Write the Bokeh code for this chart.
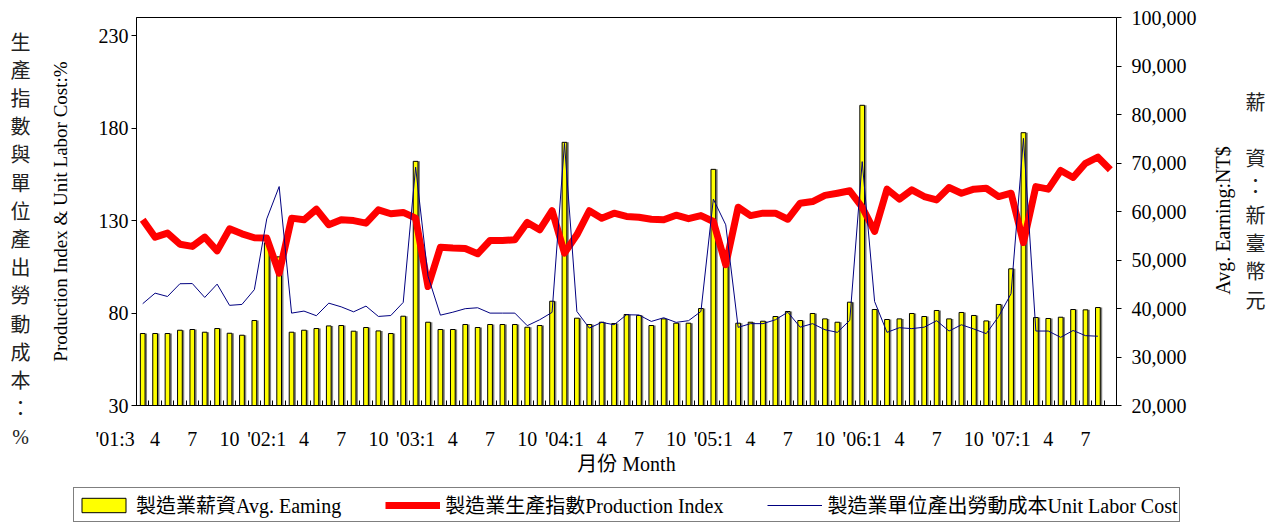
import math
from bokeh.plotting import figure
from bokeh.layouts import row, column
from bokeh.models import (ColumnDataSource, Range1d, LinearAxis, FixedTicker,
                          NumeralTickFormatter, Legend, LegendItem)
from bokeh.core.properties import value
from bokeh.transform import dodge
from bokeh.embed import file_html
from bokeh.resources import INLINE

FONT = "'Liberation Serif', 'Times New Roman', 'Noto Sans CJK TC', serif"

# ---- data (Mar 2001 .. Sep 2007) ----
earning = [34840, 34840, 34840, 35520, 35670, 35110, 35870, 34900, 34490, 37520,
           53540, 50650, 35110, 35520, 35870, 36410, 36490, 35320, 36080, 35380,
           34840, 38410, 70340, 37170, 35670, 35670, 36700, 36080, 36700, 36700,
           36700, 36140, 36490, 41500, 74260, 38000, 36700, 37170, 36900, 38760,
           38560, 36490, 37860, 36970, 36970, 40000, 68690, 49560, 36970, 37170,
           37380, 38350, 39380, 37520, 38970, 37860, 37170, 41300, 81900, 39790,
           37730, 37860, 38970, 38350, 39590, 37860, 39180, 38560, 37440, 40830,
           48180, 76250, 38140, 37940, 38200, 39790, 39720, 40200]

production = [130.5, 121.1, 123.3, 117.3, 116.1, 121.1, 113.7, 125.6, 122.9, 120.8,
              120.6, 101.6, 131.4, 130.5, 136.2, 127.8, 130.5, 130.1, 128.7, 135.9,
              133.8, 134.5, 131.4, 94.4, 115.7, 115.2, 115.0, 112.1, 119.3, 119.3,
              119.7, 129.1, 125.1, 135.5, 112.5, 122.4, 135.4, 131.4, 134.1, 132.3,
              131.9, 130.8, 130.5, 133.0, 131.1, 132.8, 129.6, 106.2, 137.3, 132.8,
              134.1, 134.1, 130.8, 139.5, 140.4, 143.7, 144.9, 146.2, 137.3, 124.2,
              147.1, 141.7, 146.7, 143.1, 141.3, 148.0, 144.9, 147.1, 147.6, 143.1,
              144.9, 118.2, 148.5, 147.1, 157.2, 153.4, 161.1, 164.4, 157.6]

unit_labor_cost = [85.1, 90.8, 89.0, 95.9, 96.0, 88.5, 95.7, 84.2, 84.7, 92.7,
                   131.0, 148.5, 80.0, 81.1, 78.6, 85.4, 83.4, 80.7, 83.8, 78.2,
                   78.7, 85.8, 159.0, 100.0, 78.9, 80.5, 82.4, 82.9, 80.0, 80.0,
                   80.0, 73.2, 76.4, 80.4, 171.9, 80.9, 71.9, 75.0, 73.7, 79.1,
                   79.0, 75.5, 77.5, 75.0, 75.9, 80.9, 141.7, 127.8, 72.3, 74.3,
                   74.3, 76.4, 80.5, 72.4, 74.3, 71.0, 69.6, 76.1, 162.0, 86.3,
                   69.6, 72.1, 71.6, 72.4, 75.9, 70.3, 73.7, 71.4, 68.9, 78.2,
                   90.5, 174.6, 70.3, 70.3, 66.9, 70.6, 67.8, 67.5]

x_tick_labels = ["'01:3", "4", "7", "10", "'02:1", "4", "7", "10", "'03:1", "4", "7", "10",
                 "'04:1", "4", "7", "10", "'05:1", "4", "7", "10", "'06:1", "4", "7", "10",
                 "'07:1", "4", "7"]
left_ticks = [30, 80, 130, 180, 230]
right_ticks = [20000, 30000, 40000, 50000, 60000, 70000, 80000, 90000, 100000]
left_title_cn = list("生產指數與單位產出勞動成本：%")
right_title_cn = ["薪", "", "資", "：", "新", "臺", "幣", "元"]
right_title_en = "Avg. Earning:NT$"
legend_labels = ["製造業薪資Avg. Eaming", "製造業生產指數Production Index",
                 "製造業單位產出勞動成本Unit Labor Cost"]

BAR_STYLE = dict(fill_color="#FFFF00", line_color="black", line_width=1)
RED_STYLE = dict(line_color="#FF0000", line_width=7, line_join="round")
BLUE_STYLE = dict(line_color="#000080", line_width=1)

n_months = len(production)
src_bar = ColumnDataSource(dict(x=list(range(len(earning))), earning=earning,
                                ulc=unit_labor_cost))
src_prod = ColumnDataSource(dict(x=list(range(n_months)), prod=production))

LEFT_W = 40          # page x 0..40  : stacked Chinese title
MAIN_W = 1165        # page x 40..1205 : chart (frame 136..1116)
RIGHT_W = 63         # page x 1205..1268 : right titles
MAIN_H = 480         # frame 17..405
LEG_H = 43
TOP, BOTTOM = 17, MAIN_H - 405


def blank_fig(w, h, x0=0, top=0, bottom=0, y_top=0, y_bottom=None):
    f = figure(width=w, height=h, x_range=Range1d(x0, x0 + w),
               y_range=Range1d(y_bottom if y_bottom is not None else h, y_top),
               output_backend="svg", toolbar_location=None, title=None,
               min_border_left=0, min_border_right=0, min_border_top=top,
               min_border_bottom=bottom, x_axis_location=None, y_axis_location=None)
    f.grid.visible = False
    f.outline_line_color = None
    f.background_fill_color = "white"
    f.border_fill_color = "white"
    return f


# ---------------- main chart ----------------
p = figure(width=MAIN_W, height=MAIN_H, x_range=Range1d(-0.5, n_months - 0.5),
           y_range=Range1d(30, 240), output_backend="svg", toolbar_location=None,
           title=None, min_border_left=96, min_border_right=MAIN_W - 96 - 980,
           min_border_top=TOP, min_border_bottom=BOTTOM)
p.extra_y_ranges = {"earn": Range1d(20000, 100000)}
p.xgrid.visible = False
p.ygrid.visible = False
p.outline_line_color = "black"
p.outline_line_width = 1
p.background_fill_color = "white"
p.border_fill_color = "white"

p.vbar(x=dodge("x", 0.16), top="earning", bottom=20000, width=0.38, source=src_bar,
       y_range_name="earn", fill_color="#808080", line_color=None)
p.vbar(x="x", top="earning", bottom=20000, width=0.38, source=src_bar,
       y_range_name="earn", **BAR_STYLE)
p.line(x="x", y="prod", source=src_prod, **RED_STYLE)
p.line(x="x", y="ulc", source=src_bar, **BLUE_STYLE)

xa = p.xaxis[0]
tick_pos = [0] + list(range(1, n_months - 2, 3))
overrides = {}
for pos, lab in zip(tick_pos, x_tick_labels):
    overrides[pos] = lab + ("\u00a0" * 11 if pos == 0 else "")
xa.ticker = FixedTicker(ticks=tick_pos, minor_ticks=[i + 0.5 for i in range(-1, n_months)])
xa.major_label_overrides = overrides
xa.major_tick_in = 0
xa.major_tick_out = 0
xa.minor_tick_in = 5
xa.minor_tick_out = 0
xa.minor_tick_line_color = "black"
xa.major_label_standoff = 22
xa.axis_label = "月份 Month"
xa.axis_label_standoff = 0

ya = p.yaxis[0]
ya.ticker = FixedTicker(ticks=left_ticks)
ya.major_tick_in = 0
ya.major_tick_out = 5
ya.minor_tick_line_color = None
ya.major_label_standoff = 3
ya.axis_label = "Production Index & Unit Labor Cost:%"
ya.axis_label_standoff = 25
ya.axis_label_text_font_size = "19px"

ra = LinearAxis(y_range_name="earn", ticker=FixedTicker(ticks=right_ticks),
                formatter=NumeralTickFormatter(format="0,0"))
ra.major_tick_in = 0
ra.major_tick_out = 5
ra.minor_tick_line_color = None
ra.major_label_standoff = 10
p.add_layout(ra, "right")

for ax in (xa, ya, ra):
    ax.axis_line_color = "black"
    ax.major_tick_line_color = "black"
    ax.major_label_text_font = FONT
    ax.major_label_text_font_size = "20px"
    ax.major_label_text_color = "black"
    ax.axis_label_text_font = FONT
    ax.axis_label_text_font_style = "normal"
    ax.axis_label_text_color = "black"
xa.axis_label_text_font_size = "20px"

# ---------------- left stacked Chinese title (full height strip) ----------------
full_h = MAIN_H + LEG_H
left_fig = blank_fig(LEFT_W, full_h)
left_fig.text(x=[20] * len(left_title_cn),
              y=[42 + 28.2 * k for k in range(len(left_title_cn))],
              text=left_title_cn, text_align="center", text_baseline="middle",
              text_font=value(FONT), text_font_size=value("20px"), text_color="#222222")

# ---------------- right titles strip (frame aligned with chart frame) ----------------
x0_right = LEFT_W + MAIN_W
right_fig = blank_fig(RIGHT_W, MAIN_H, x0=x0_right, top=TOP, bottom=BOTTOM,
                      y_top=TOP, y_bottom=405)
right_fig.text(x=[1222], y=[220], text=[right_title_en], angle=math.pi / 2,
               text_align="center", text_baseline="middle", text_font=value(FONT),
               text_font_size=value("20px"), text_color="black")
right_fig.text(x=[1255] * len(right_title_cn),
               y=[102 + 28.3 * k for k in range(len(right_title_cn))],
               text=right_title_cn, text_align="center", text_baseline="middle",
               text_font=value(FONT), text_font_size=value("20px"), text_color="#222222")

# ---------------- legend strip ----------------
leg_w = MAIN_W + RIGHT_W
leg_fig = blank_fig(leg_w, LEG_H)
# key glyphs reuse the chart data, mapped onto ranges far out of view
leg_fig.extra_y_ranges = {"off": Range1d(-2e6, -1e6)}
leg_fig.extra_x_ranges = {"offx": Range1d(-2e6, -1e6)}
r1 = leg_fig.vbar(x="x", top="earning", bottom=20000, width=0.38, source=src_bar,
                  x_range_name="offx", y_range_name="off", **BAR_STYLE)
r2 = leg_fig.line(x="x", y="prod", source=src_prod, x_range_name="offx",
                  y_range_name="off", **RED_STYLE)
r3 = leg_fig.line(x="x", y="ulc", source=src_bar, x_range_name="offx",
                  y_range_name="off", **BLUE_STYLE)
legend = Legend(items=[LegendItem(label=legend_labels[0], renderers=[r1]),
                       LegendItem(label=legend_labels[1], renderers=[r2]),
                       LegendItem(label=legend_labels[2], renderers=[r3])],
                location=(73 - LEFT_W, 1), orientation="horizontal", margin=0,
                label_text_font=FONT, label_text_font_size="20px", label_text_color="black",
                glyph_width=55, glyph_height=18, label_standoff=5, spacing=44, padding=2,
                border_line_color="black", border_line_width=1, background_fill_alpha=1)
leg_fig.add_layout(legend)

layout = row(left_fig,
             column(row(p, right_fig, spacing=0), leg_fig, spacing=0),
             spacing=0)

open("out.html", "w").write(file_html(layout, INLINE))
